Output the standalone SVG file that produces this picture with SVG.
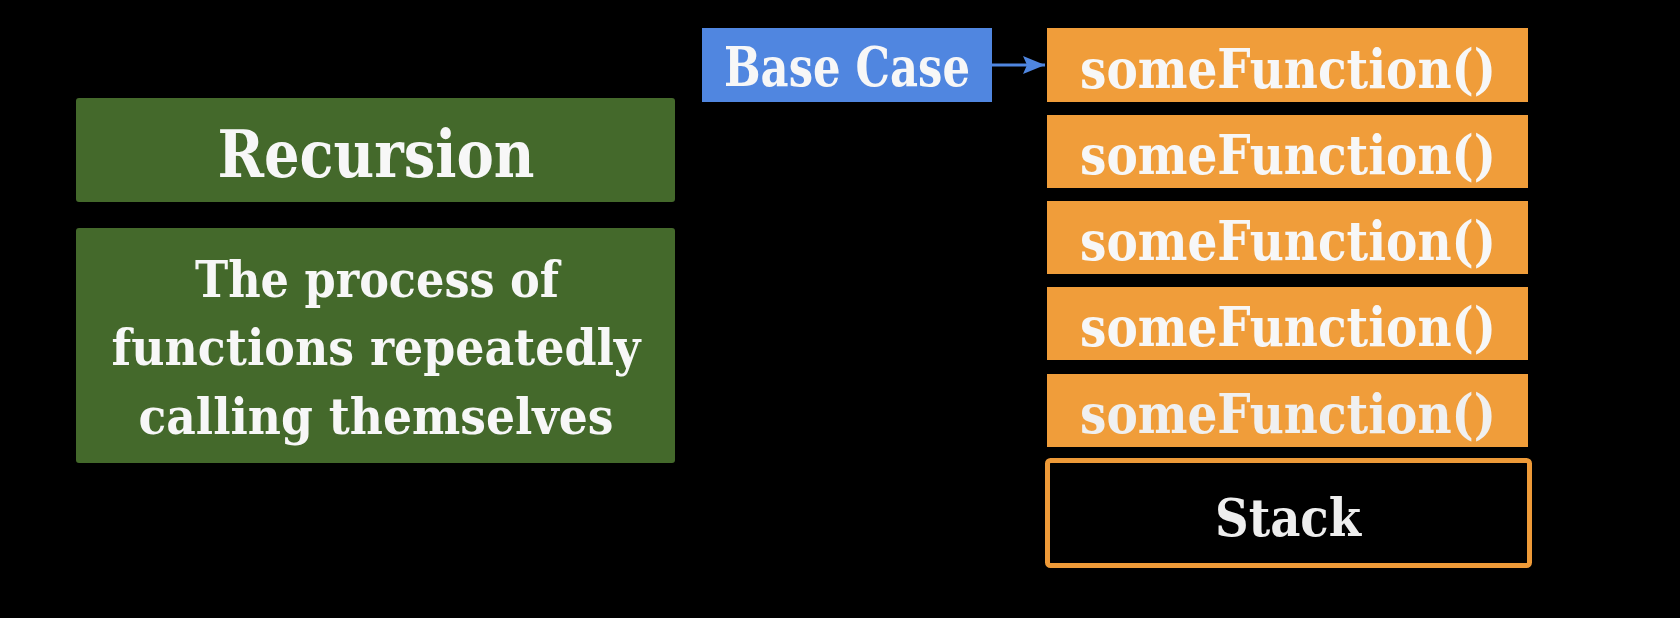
<svg xmlns="http://www.w3.org/2000/svg" width="1680" height="618" viewBox="0 0 1680 618">
<defs>
<style>
.t{font-family:"DejaVu Serif Condensed","DejaVu Serif","Liberation Serif",serif;font-weight:bold;fill:#f7f7f7;text-anchor:middle}
.g{fill:#44692b}
.o{fill:#f09d3a}
</style>
<marker id="ah" markerWidth="22" markerHeight="18" refX="22" refY="9" orient="auto" markerUnits="userSpaceOnUse">
<path d="M0,0 L22,9 L0,18 L4,9 Z" fill="#4f86e0"/>
</marker>
</defs>
<rect width="1680" height="618" fill="#000"/>
<g id="recursion">
<rect class="g" x="76" y="98" width="599" height="104" rx="3"/>
<text class="t" x="376" y="177" font-size="66" textLength="317" lengthAdjust="spacingAndGlyphs">Recursion</text>
</g>
<g id="definition">
<rect class="g" x="76" y="228" width="599" height="235" rx="3"/>
<text class="t" x="377" y="297" font-size="50" textLength="364" lengthAdjust="spacingAndGlyphs">The process of</text>
<text class="t" x="376" y="365" font-size="50" textLength="529" lengthAdjust="spacingAndGlyphs">functions repeatedly</text>
<text class="t" x="376" y="434" font-size="50" textLength="475" lengthAdjust="spacingAndGlyphs">calling themselves</text>
</g>
<g id="basecase">
<rect x="702" y="28" width="290" height="74" fill="#5086e0"/>
<text class="t" x="847" y="86" font-size="54" textLength="246" lengthAdjust="spacingAndGlyphs">Base Case</text>
</g>
<g id="frame1">
<rect class="o" x="1047" y="28" width="481" height="74"/>
<text class="t" x="1288" y="88" font-size="54" textLength="416" lengthAdjust="spacingAndGlyphs">someFunction()</text>
</g>
<g id="frame2">
<rect class="o" x="1047" y="115" width="481" height="73"/>
<text class="t" x="1288" y="174" font-size="54" textLength="416" lengthAdjust="spacingAndGlyphs">someFunction()</text>
</g>
<g id="frame3">
<rect class="o" x="1047" y="201" width="481" height="73"/>
<text class="t" x="1288" y="260" font-size="54" textLength="416" lengthAdjust="spacingAndGlyphs">someFunction()</text>
</g>
<g id="frame4">
<rect class="o" x="1047" y="287" width="481" height="73"/>
<text class="t" x="1288" y="346" font-size="54" textLength="416" lengthAdjust="spacingAndGlyphs">someFunction()</text>
</g>
<g id="frame5">
<rect class="o" x="1047" y="374" width="481" height="73"/>
<text class="t" x="1288" y="433" font-size="54" textLength="416" lengthAdjust="spacingAndGlyphs" style="fill:#f0f0f0">someFunction()</text>
</g>
<g id="stack">
<rect x="1047.5" y="460.5" width="482" height="105" rx="3" fill="#000" stroke="#ee9a38" stroke-width="5"/>
<text class="t" x="1288" y="536" font-size="52" textLength="146" lengthAdjust="spacingAndGlyphs" style="fill:#eeeeee">Stack</text>
</g>
<g id="connectors">
<line x1="992" y1="65" x2="1045" y2="65" stroke="#4f86e0" stroke-width="3" marker-end="url(#ah)"/>
</g>
</svg>
